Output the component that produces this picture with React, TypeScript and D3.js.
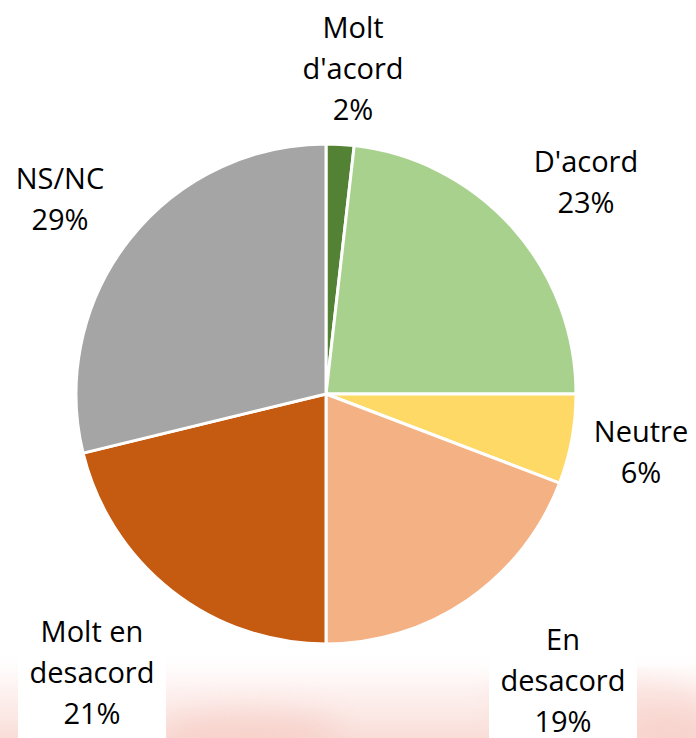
import React from "react";
import * as d3 from "d3";

const categories = ["Molt d'acord", "D'acord", "Neutre", "En desacord", "Molt en desacord", "NS/NC"];
const values = [1.8, 23.2, 5.8, 19.2, 21.2, 28.8];
const labelLines = [["Molt", "d'acord"], ["D'acord"], ["Neutre"], ["En", "desacord"], ["Molt en", "desacord"], ["NS/NC"]];
const colors = ["#548235", "#A9D18E", "#FFD966", "#F4B183", "#C55A11", "#A5A5A5"];

// label layout (center x, first baseline y), chosen to match the reference
const labelAt: [number, number][] = [
  [353, 38],
  [586, 172],
  [641, 442],
  [563, 650],
  [92, 642],
  [60, 189],
];
const boxed = [false, false, false, true, true, false];

const W = 696;
const H = 738;
const cx = 326;
const cy = 394;
const r = 250;
const lineH = 41;

const App = () => {
  const pie = d3.pie<number>().sort(null).value((d) => d);
  const arcs = pie(values);
  const arc = d3.arc<d3.PieArcDatum<number>>().innerRadius(0).outerRadius(r);

  return (
    <svg
      width={W}
      height={H}
      style={{ position: "absolute", left: 0, top: 0, background: "#fff" }}
      fontFamily="'Open Sans', 'Noto Sans', sans-serif"
    >
      <defs>
        <linearGradient id="bg" x1="0" y1="0" x2="0" y2="1">
          <stop offset="0" stopColor="#ffffff" stopOpacity={0} />
          <stop offset="0.5" stopColor="#fcebe8" stopOpacity={0.7} />
          <stop offset="1" stopColor="#f9ddd7" stopOpacity={1} />
        </linearGradient>
        <filter id="blur">
          <feGaussianBlur stdDeviation="14" />
        </filter>
      </defs>
      <rect x={0} y={645} width={W} height={H - 645} fill="url(#bg)" />
      <g filter="url(#blur)" opacity={0.3}>
        <ellipse cx={250} cy={730} rx={90} ry={22} fill="#f3b5aa" />
        <ellipse cx={600} cy={700} rx={110} ry={25} fill="#f6c4bb" />
        <ellipse cx={670} cy={725} rx={50} ry={20} fill="#f3b0a5" />
      </g>
      <g transform={`translate(${cx},${cy})`}>
        {arcs.map((a, i) => (
          <path key={categories[i]} d={arc(a) || ""} fill={colors[i]} stroke="#fff" strokeWidth={3} strokeLinejoin="round" />
        ))}
      </g>
      {arcs.map((a, i) => {
        const [x, y] = labelAt[i];
        const lines = [...labelLines[i], `${Math.round(values[i])}%`];
        return (
          <g key={categories[i]}>
            {boxed[i] && (
              <rect x={x - 74} y={y - 30} width={148} height={H - (y - 30)} fill="#fff" />
            )}
            <text textAnchor="middle" fontSize={29} fill="#000">
              {lines.map((t, j) => (
                <tspan key={j} x={x} y={y + j * lineH}>
                  {t}
                </tspan>
              ))}
            </text>
          </g>
        );
      })}
    </svg>
  );
};

export default App;
